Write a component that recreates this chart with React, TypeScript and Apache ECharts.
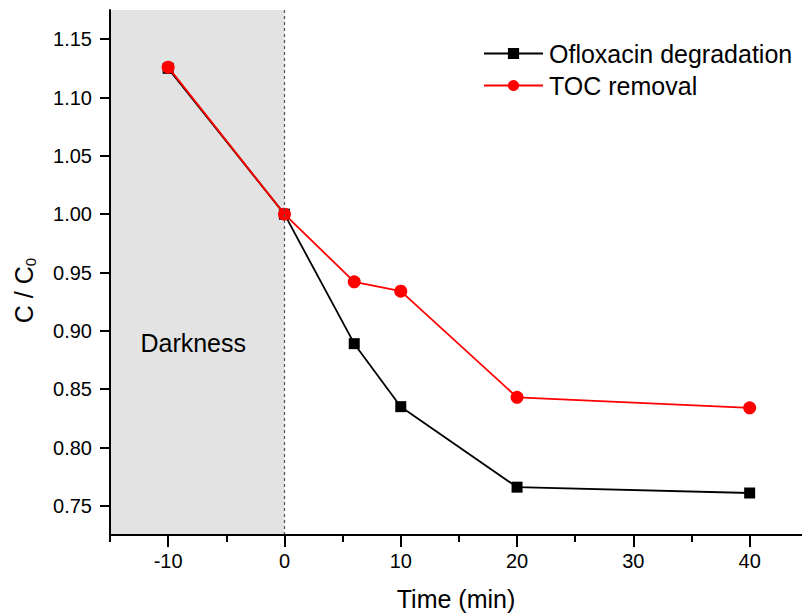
import React, { useEffect, useRef } from "react";
import * as echarts from "echarts";

const FONT = "Liberation Sans, Arial, sans-serif";

const times = [-10, 0, 6, 10, 20, 40];
const ofloxacin = [1.125, 1.0, 0.889, 0.835, 0.766, 0.761];
const tocRemoval = [1.126, 1.0, 0.942, 0.934, 0.843, 0.834];

const xMajorTicks = [-10, 0, 10, 20, 30, 40];
const xMinorTicks = [-15, -5, 5, 15, 25, 35];
const yTicks = [0.75, 0.8, 0.85, 0.9, 0.95, 1.0, 1.05, 1.1, 1.15];

const X_MIN = -15;
const X_MAX = 44.5;
const Y_MIN = 0.725;
const Y_MAX = 1.175;
const DARK_START = -15;
const DARK_END = 0;

export default function App() {
  const ref = useRef<HTMLDivElement>(null);

  useEffect(() => {
    document.body.style.margin = "0";
    if (!ref.current) return;
    const chart = echarts.init(ref.current, undefined, { renderer: "svg" });

    const seriesA = times.map((t, i) => [t, ofloxacin[i]]);
    const seriesB = times.map((t, i) => [t, tocRemoval[i]]);

    const axisLine = { show: true, onZero: false, lineStyle: { color: "#000", width: 2 } };

    chart.setOption({
      animation: false,
      backgroundColor: "#fff",
      grid: { left: 110, right: 0, top: 10, bottom: 81, outerBoundsMode: "none", containLabel: false },
      legend: {
        orient: "vertical",
        left: 483,
        top: 41,
        padding: 0,
        itemWidth: 59,
        itemHeight: 14,
        itemGap: 7,
        textStyle: { fontSize: 25, fontFamily: FONT, color: "#000", padding: [0, 0, 0, 1] },
        data: ["Ofloxacin degradation", "TOC removal"],
      },
      xAxis: [
        {
          type: "value",
          min: X_MIN,
          max: X_MAX,
          z: 5,
          axisLine,
          splitLine: { show: false },
          axisTick: { show: true, customValues: xMajorTicks, length: 12, lineStyle: { color: "#000", width: 2 } },
          axisLabel: { customValues: xMajorTicks, fontSize: 20, fontFamily: FONT, color: "#000", margin: 16 },
          name: "Time (min)",
          nameLocation: "middle",
          nameGap: 51,
          nameTextStyle: { fontSize: 25, fontFamily: FONT, color: "#000" },
        },
        {
          type: "value",
          position: "bottom",
          min: X_MIN,
          max: X_MAX,
          z: 5,
          axisLine: { show: false, onZero: false },
          splitLine: { show: false },
          axisTick: { show: true, customValues: xMinorTicks, length: 7, lineStyle: { color: "#000", width: 2 } },
          axisLabel: { show: false },
        },
      ],
      yAxis: {
        type: "value",
        min: Y_MIN,
        max: Y_MAX,
        z: 5,
        axisLine,
        splitLine: { show: false },
        axisTick: { show: true, customValues: yTicks, length: 10, lineStyle: { color: "#000", width: 2 } },
        axisLabel: {
          customValues: yTicks,
          fontSize: 20,
          fontFamily: FONT,
          color: "#000",
          margin: 18,
          formatter: (v: number) => v.toFixed(2),
        },
        name: "{a|C / C}{b|0}",
        nameLocation: "middle",
        nameGap: 72,
        nameTextStyle: {
          padding: [0, 36, 0, 0],
          rich: {
            a: { fontSize: 25, fontFamily: FONT, color: "#000" },
            b: { fontSize: 15, fontFamily: FONT, color: "#000", padding: [14, 0, 0, 0] },
          },
        },
      },
      series: [
        {
          name: "Ofloxacin degradation",
          type: "line",
          data: seriesA,
          symbol: "rect",
          symbolSize: 11,
          lineStyle: { color: "#000", width: 1.8 },
          itemStyle: { color: "#000" },
          z: 2,
          markArea: {
            silent: true,
            itemStyle: { color: "#e3e3e3" },
            label: {
              show: true,
              position: "inside",
              offset: [-4, 70],
              fontSize: 25,
              fontFamily: FONT,
              color: "#000",
            },
            data: [[{ name: "Darkness", xAxis: DARK_START }, { xAxis: DARK_END }]],
          },
          markLine: {
            silent: true,
            symbol: "none",
            label: { show: false },
            lineStyle: { color: "#555", width: 1.2, type: [3, 3] },
            data: [{ xAxis: DARK_END }],
          },
        },
        {
          name: "TOC removal",
          type: "line",
          data: seriesB,
          symbol: "circle",
          symbolSize: 13,
          lineStyle: { color: "#ff0000", width: 1.8 },
          itemStyle: { color: "#ff0000" },
          z: 3,
        },
      ],
    });

    return () => chart.dispose();
  }, []);

  return <div ref={ref} style={{ width: 802, height: 616 }} />;
}
